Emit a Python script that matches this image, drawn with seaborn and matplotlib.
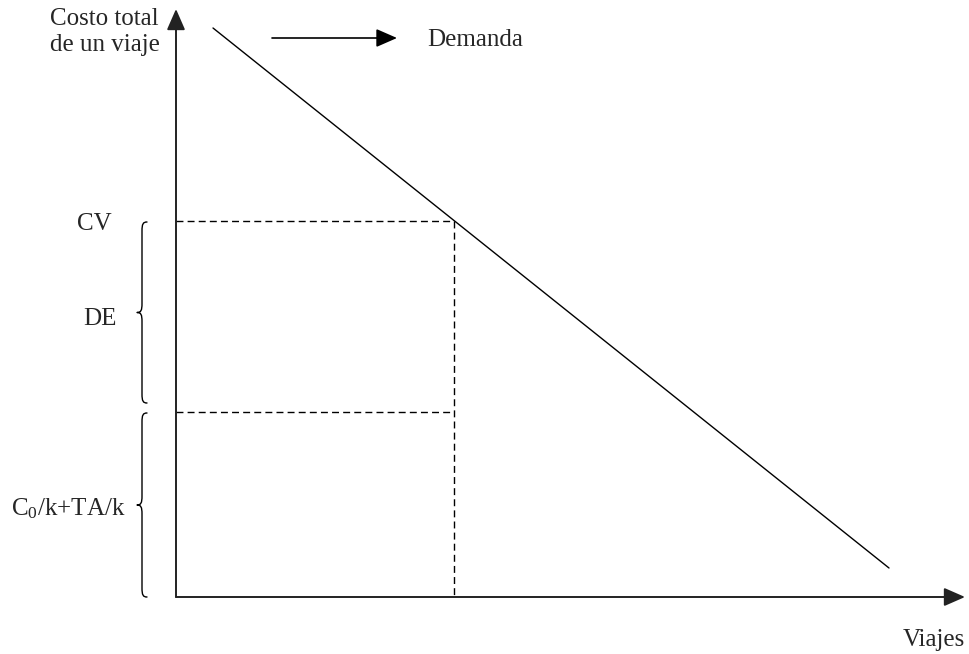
import numpy as np
import pandas as pd
import seaborn as sns
import matplotlib
matplotlib.use("Agg")
import matplotlib.pyplot as plt
from matplotlib.path import Path
from matplotlib.patches import PathPatch

sns.set_style("white")
plt.rcParams['font.family'] = ['Liberation Serif', 'DejaVu Serif']
plt.rcParams['mathtext.fontset'] = 'custom'
plt.rcParams['mathtext.rm'] = 'Liberation Serif'
plt.rcParams['mathtext.it'] = 'Liberation Serif:italic'

# ---- data (diagram units, origin at the axes crossing) ----
demand_x = [37, 713]
demand_y = [569, 29]
cv_level = 376
de_low = 185
q_eq = 278
labels_y = ["CV", "DE", r"C$_{\mathrm{0}}$/k+TA/k"]
axis_labels = ["Costo total\nde un viaje", "Viajes", "Demanda"]

W, H = 969, 654
ox, oy = 176, 597
fig = plt.figure(figsize=(W / 100, H / 100), dpi=100)
ax = fig.add_axes([0, 0, 1, 1])
ax.set_xlim(-ox, W - ox)
ax.set_ylim(oy - H, oy)
ax.axis('off')

# demand line
df = pd.DataFrame({"x": demand_x, "y": demand_y})
sns.lineplot(data=df, x="x", y="y", ax=ax, color="black", lw=1.0, legend=False,
             estimator=None, sort=False)

# dashed guides
dash = dict(color="black", lw=1.0, linestyle=(0, (5, 3)), estimator=None, sort=False)
sns.lineplot(x=[0, q_eq], y=[cv_level, cv_level], ax=ax, **dash)
sns.lineplot(x=[0, q_eq], y=[de_low, de_low], ax=ax, **dash)
sns.lineplot(x=[q_eq, q_eq], y=[cv_level, 0], ax=ax, orient='y', **dash)

# axes arrows
arr = dict(arrowstyle='-|>,head_length=0.8,head_width=0.35', color='#222222', lw=1.4,
           mutation_scale=16, shrinkA=0, shrinkB=0)
ax.annotate("", xy=(0, oy - 9), xytext=(0, 0), arrowprops=arr)
ax.annotate("", xy=(965 - ox, 0), xytext=(0, 0), arrowprops=arr)
arr2 = dict(arr); arr2['color'] = 'black'; arr2['lw'] = 1.2
ax.annotate("", xy=(397 - ox, oy - 38), xytext=(272 - ox, oy - 38), arrowprops=arr2)

# curly braces (tip pointing left)
def brace(ytop, ybot, xr, xl):
    xm = (xr + xl) / 2
    ym = (ytop + ybot) / 2
    c = 9
    verts = [(xr, ytop), (xm + 1, ytop), (xm, ytop - 2), (xm, ytop - c),
             (xm, ym + c),
             (xm, ym + 2), (xm - 1, ym), (xl, ym),
             (xm - 1, ym), (xm, ym - 2), (xm, ym - c),
             (xm, ybot + c),
             (xm, ybot + 2), (xm + 1, ybot), (xr, ybot)]
    codes = [Path.MOVETO, Path.CURVE4, Path.CURVE4, Path.CURVE4,
             Path.LINETO,
             Path.CURVE4, Path.CURVE4, Path.CURVE4,
             Path.CURVE4, Path.CURVE4, Path.CURVE4,
             Path.LINETO,
             Path.CURVE4, Path.CURVE4, Path.CURVE4]
    ax.add_patch(PathPatch(Path(verts, codes), fill=False, lw=1.0, color='black',
                           capstyle='round', joinstyle='round'))

brace(cv_level - 1, de_low + 9, 147 - ox, 137 - ox)
brace(de_low - 1, 0, 147 - ox, 137 - ox)

fs = 18
ax.text(50 - ox, oy - 8, axis_labels[0], fontsize=fs, ha='left', va='top', linespacing=1.22)
ax.text(427 - ox, oy - 40, axis_labels[2], fontsize=fs, ha='left', va='center')
ax.text(965 - ox, oy - 640, axis_labels[1], fontsize=fs, ha='right', va='center')
ax.text(94 - ox, oy - 224, labels_y[0], fontsize=fs, ha='center', va='center')
ax.text(100 - ox, oy - 319, labels_y[1], fontsize=fs, ha='center', va='center')
ax.text(68 - ox, oy - 509, labels_y[2], fontsize=fs, ha='center', va='center')

fig.savefig("out.png", dpi=100)
